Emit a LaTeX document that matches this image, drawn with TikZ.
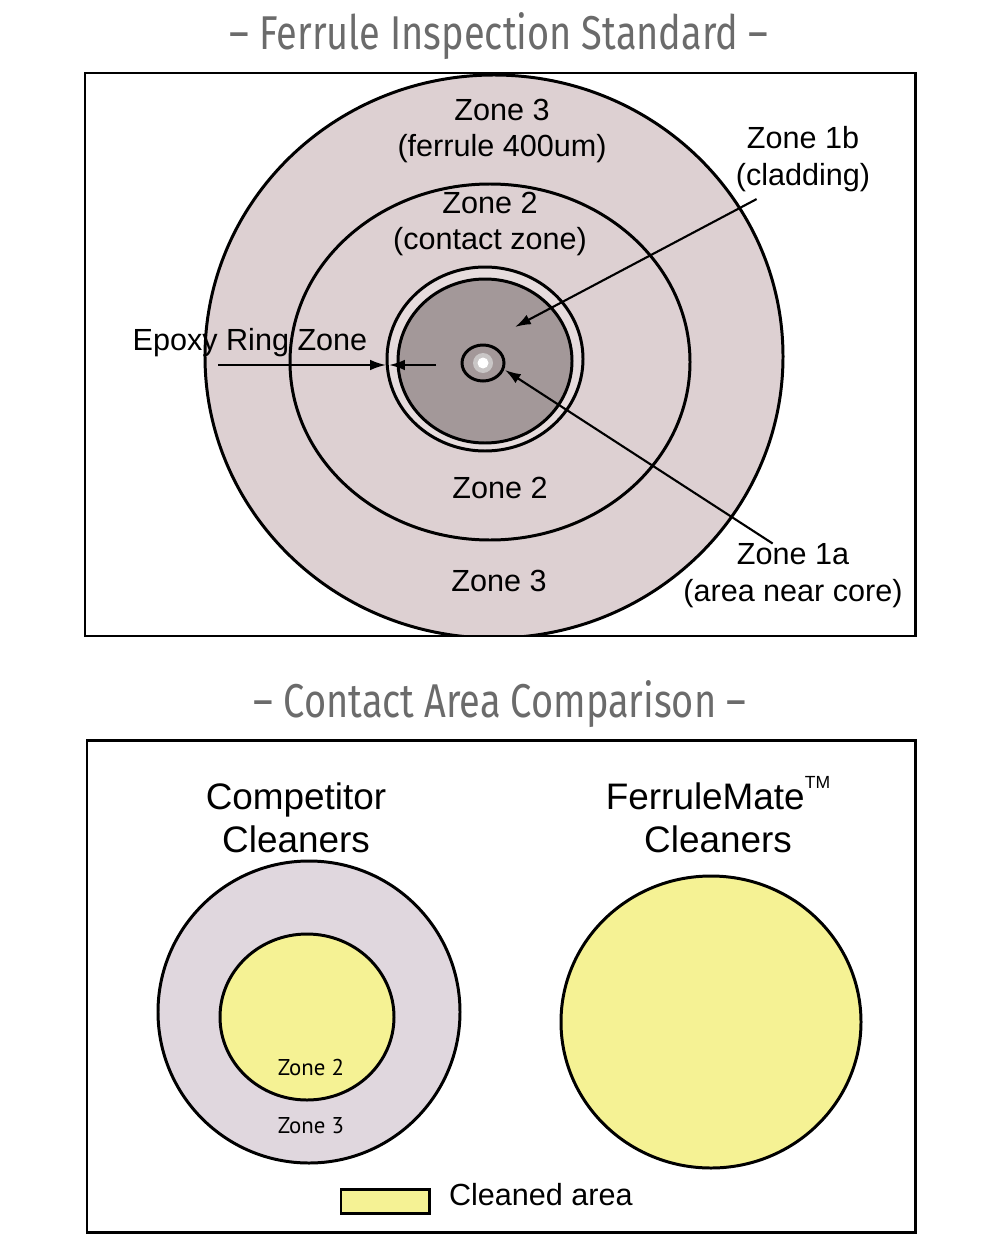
\documentclass[tikz,border=0pt]{standalone}
\usepackage{fontspec}
\setmainfont{Liberation Sans}
\newfontfamily\headfont[FakeStretch=0.8]{Fira Sans}
\newfontfamily\smallfont{PT Sans}
\usetikzlibrary{arrows.meta, positioning}
\definecolor{ferrule}{HTML}{DDD0D2}
\definecolor{epoxy}{HTML}{E6DCDD}
\definecolor{clad}{HTML}{A39899}
\definecolor{coregray}{HTML}{C9C6C6}
\definecolor{lavender}{HTML}{E0D7DE}
\definecolor{cleaned}{HTML}{F5F294}
\definecolor{titlegray}{HTML}{6B6B6B}

\begin{document}
\begin{tikzpicture}[x=0.02cm, y=0.02cm,
  title/.style = {font=\headfont\fontsize{27}{31}\selectfont, text=titlegray},
  frame/.style = {draw, line width=1.7pt},
  ring/.style = {draw, line width=1.7pt},
  lbl/.style = {font=\fontsize{17.4}{21}\selectfont, align=center, inner sep=1pt},
  head/.style = {font=\fontsize{21}{24.5}\selectfont, align=center, inner sep=1pt},
  small/.style = {font=\smallfont\fontsize{13}{15}\selectfont, inner sep=1pt},
  pointer/.style = {-{Latex[length=9pt, width=6pt]}, line width=1.2pt}]
\useasboundingbox (0,0) rectangle (1000,-1250);

% top: ferrule inspection standard
\node[title] (t1) at (499,-36) {– Ferrule Inspection Standard –};
\begin{scope}
\clip (85,-73) rectangle (915,-636);
\draw[ring, fill=ferrule] (494,-356.5) ellipse [x radius=289, y radius=281.5];
\draw[ring] (490,-362) ellipse [x radius=200, y radius=178];
\draw[ring, fill=epoxy] (485,-359) ellipse [x radius=98, y radius=92];
\draw[ring, fill=clad] (485,-361) ellipse [x radius=87, y radius=82];
\draw[ring, fill=clad] (483,-363) ellipse [x radius=21, y radius=18];
\fill[coregray] (483,-363) circle [radius=10];
\fill[white] (483,-363) circle [radius=5.5];
\end{scope}
\draw[frame] (85,-73) rectangle (915,-636);

\node[lbl] (z3top) at (502,-131) {Zone 3\\(ferrule 400um)};
\node[lbl] (z2top) at (490,-224) {Zone 2\\(contact zone)};
\node[lbl] (z1b) at (803,-159) {Zone 1b\\(cladding)};
\node[lbl] (epoxy) at (250,-343) {Epoxy Ring Zone};
\node[lbl] (z2bot) at (500,-488) {Zone 2};
\node[lbl] (z3bot) at (499,-581) {Zone 3};
\node[lbl] (z1a) at (793,-576) {Zone 1a\\(area near core)};

\coordinate (cladpt) at (515,-327);
\coordinate (corept) at (505,-370);
\coordinate (epoxyout) at (218,-365);
\coordinate (ringout) at (386,-365);
\coordinate (ringin) at (389,-365);
\coordinate (epoxyin) at (436,-365);
\draw[pointer] ([xshift=13, yshift=-3]z1b.south west) -- (cladpt);
\draw[pointer] ([xshift=52, yshift=-1]z1a.north west) -- (corept);
\draw[pointer] (epoxyout) -- (ringout);
\draw[pointer] (epoxyin) -- (ringin);

% bottom: contact area comparison
\node[title] (t2) at (500,-704) {– Contact Area Comparison –};
\draw[frame] (87,-740) rectangle (915,-1232);

\node[head] (comp) at (296,-818) {Competitor\\Cleaners};
\node[head] (fmate) at (718,-818) {FerruleMate\smash{\raisebox{1.1ex}{\fontsize{10}{11}\selectfont TM}}\\Cleaners};

\draw[ring, fill=lavender] (309,-1012) circle [radius=151];
\draw[ring, fill=cleaned] (307,-1017) ellipse [x radius=87, y radius=83];
\node[small] (cz2) at (311,-1067) {Zone 2};
\node[small] (cz3) at (311,-1126) {Zone 3};

\draw[ring, fill=cleaned] (711,-1022) ellipse [x radius=150, y radius=146];

\draw[ring, fill=cleaned] (341,-1189) rectangle (429,-1213);
\node[lbl, anchor=west] (legend) at (447,-1195) {Cleaned area};
\end{tikzpicture}
\end{document}
